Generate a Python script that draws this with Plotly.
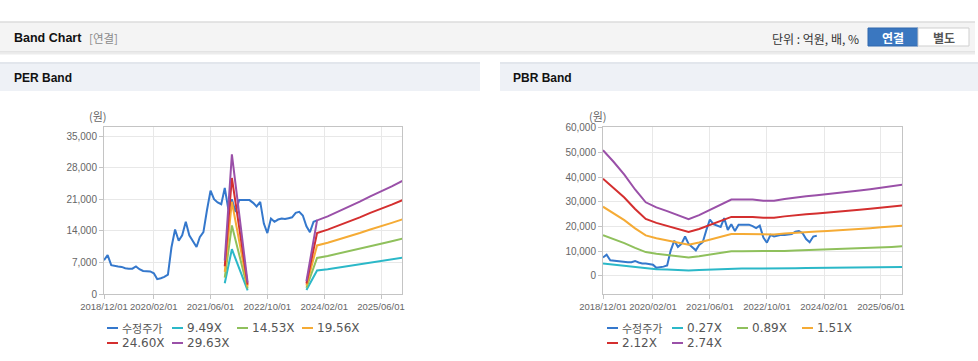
import pandas as pd
import plotly.graph_objects as go

W, H = 978, 361

# ---------------- data ----------------
price_dates = pd.date_range("2018-12-01", periods=61, freq="MS")
price = [7500, 8600, 6400, 6200, 6100, 6000, 5700, 5600, 5600, 6100,
         5500, 5100, 5100, 5000, 4600, 3300, 3500, 3800, 4300, 10300,
         14300, 11800, 13000, 16000, 13000, 11600, 10400, 12600, 13700, 18500,
         22900, 21000, 20300, 19900, 23500, 18700, 21000, 18200, 20800, 20800,
         20800, 20800, 20200, 19400, 20400, 15600, 13500, 16700, 16000, 16500,
         16700, 16600, 16800, 17000, 18000, 18200, 17400, 15000, 13700, 16000,
         16300]

per_band_dates = ["2021-10-01", "2021-12-01", "2022-04-15", "2023-01-01", "2023-09-01",
                  "2023-12-01", "2024-03-01", "2024-06-01", "2024-09-01", "2024-12-01",
                  "2025-03-01", "2025-06-01", "2025-09-01", "2025-12-01"]
per_949 = [2370, 9920, 810, None, 900, 5220, 5500, 5840, 6170, 6550, 6930, 7260, 7640, 8020]
per_1453 = [3630, 15180, 1240, None, 1380, 7990, 8430, 8940, 9450, 10030, 10610, 11120, 11700, 12280]
per_1956 = [4890, 20440, 1660, None, 1860, 10760, 11350, 12030, 12710, 13500, 14280, 14960, 15750, 16530]
per_2460 = [6150, 25710, 2090, None, 2340, 13530, 14270, 15130, 15990, 16970, 17960, 18820, 19800, 20790]
per_2963 = [7410, 30960, 2520, None, 2820, 16300, 17190, 18220, 19260, 20450, 21630, 22670, 23850, 25040]

pbr_band_dates = pd.date_range("2018-12-01", "2025-12-01", freq="3MS")
pbr_027 = [5020, 4560, 4050, 3460, 2940, 2740, 2590, 2420, 2270, 2430, 2650, 2860, 3050, 3050, 3050,
           3010, 3010, 3080, 3150, 3190, 3230, 3270, 3310, 3360, 3420, 3470, 3520, 3580, 3650]
pbr_089 = [16550, 15040, 13350, 11390, 9700, 9030, 8540, 7970, 7480, 8010, 8720, 9430, 10060, 10060, 10060,
           9920, 9920, 10150, 10370, 10500, 10640, 10770, 10900, 11080, 11260, 11440, 11620, 11790, 12020]
pbr_151 = [28090, 25520, 22650, 19330, 16460, 15330, 14500, 13520, 12680, 13590, 14800, 16010, 17060, 17060, 17060,
           16840, 16840, 17210, 17590, 17820, 18050, 18270, 18500, 18800, 19100, 19400, 19710, 20010, 20390]
pbr_212 = [39430, 35830, 31800, 27140, 23110, 21520, 20350, 18970, 17810, 19080, 20780, 22470, 23960, 23960, 23960,
           23640, 23640, 24170, 24700, 25020, 25330, 25650, 25970, 26390, 26820, 27240, 27670, 28090, 28620]
pbr_274 = [50960, 46310, 41100, 35070, 29870, 27810, 26300, 24520, 23020, 24660, 26850, 29040, 30960, 30960, 30960,
           30550, 30550, 31240, 31920, 32330, 32740, 33150, 33570, 34110, 34660, 35210, 35760, 36310, 36990]

per_names = ["수정주가", "9.49X", "14.53X", "19.56X", "24.60X", "29.63X"]
pbr_names = ["수정주가", "0.27X", "0.89X", "1.51X", "2.12X", "2.74X"]
colors = ["#3578cc", "#2bb8c8", "#8fc05c", "#f5ab35", "#d42f2f", "#9a50a8"]

x_tickvals = ["2018-12-01", "2020-02-01", "2021-06-01", "2022-10-01", "2024-02-01", "2025-06-01"]
per_yticks = [0, 7000, 14000, 21000, 28000, 35000]
pbr_yticks = [0, 10000, 20000, 30000, 40000, 50000, 60000]


def px(x):
    return x / W


def py(y):
    return 1 - y / H


fig = go.Figure()

per_series = [price, per_949, per_1453, per_1956, per_2460, per_2963]
pbr_series = [price, pbr_027, pbr_089, pbr_151, pbr_212, pbr_274]

for i, (name, vals) in enumerate(zip(per_names, per_series)):
    xs = price_dates if i == 0 else per_band_dates
    fig.add_trace(go.Scatter(x=xs, y=vals, name=name, mode="lines",
                             line=dict(color=colors[i], width=2), xaxis="x", yaxis="y",
                             showlegend=False, connectgaps=False))
for i, (name, vals) in enumerate(zip(pbr_names, pbr_series)):
    xs = price_dates if i == 0 else pbr_band_dates
    fig.add_trace(go.Scatter(x=xs, y=vals, name=name, mode="lines",
                             line=dict(color=colors[i], width=2), xaxis="x2", yaxis="y2",
                             showlegend=False))

tickfont = dict(family="Liberation Sans, Arial, sans-serif", size=9.5, color="#666666")
ytickfont = dict(family="Liberation Sans, Arial, sans-serif", size=10, color="#666666")
common_x = dict(type="date", range=["2018-12-01", "2025-11-28"], tickvals=x_tickvals,
                tickformat="%Y/%m/%d", tickangle=0, tickfont=tickfont, showgrid=True, gridcolor="#e8e8e8",
                showline=True, mirror=True, linecolor="#c4c4c4", linewidth=1, automargin=False,
                ticks="outside", ticklen=4, tickcolor="#c4c4c4", zeroline=False, fixedrange=True)
common_y = dict(tickformat=",d", tickfont=ytickfont, showgrid=True, gridcolor="#e8e8e8",
                showline=True, mirror=True, linecolor="#c4c4c4", linewidth=1, automargin=False,
                ticks="outside", ticklen=4, tickcolor="#c4c4c4", zeroline=False, fixedrange=True)

shapes = []
annotations = []

# top header bar
shapes.append(dict(type="rect", xref="paper", yref="paper", x0=px(0), x1=px(975), y0=py(52), y1=py(22),
                   fillcolor="#f4f4f4", line=dict(width=0), layer="below"))
shapes.append(dict(type="line", xref="paper", yref="paper", x0=px(0), x1=px(975), y0=py(22), y1=py(22),
                   line=dict(color="#dcdcdc", width=1.5)))
shapes.append(dict(type="line", xref="paper", yref="paper", x0=px(0), x1=px(975), y0=py(52), y1=py(52),
                   line=dict(color="#d2d2d2", width=1)))
shapes.append(dict(type="line", xref="paper", yref="paper", x0=px(0), x1=px(975), y0=py(53.5), y1=py(53.5),
                   line=dict(color="#ececec", width=2)))

# section headers
for x0, x1 in [(0, 480), (500, 978)]:
    shapes.append(dict(type="rect", xref="paper", yref="paper", x0=px(x0), x1=px(x1), y0=py(91), y1=py(62),
                       fillcolor="#eef1f6", line=dict(width=0), layer="below"))
    shapes.append(dict(type="line", xref="paper", yref="paper", x0=px(x0), x1=px(x1), y0=py(63), y1=py(63),
                       line=dict(color="#e2e6ec", width=2)))

# buttons
shapes.append(dict(type="rect", xref="paper", yref="paper", x0=px(868), x1=px(918), y0=py(46), y1=py(28),
                   fillcolor="#3a77c0", line=dict(color="#3169ad", width=1)))
shapes.append(dict(type="rect", xref="paper", yref="paper", x0=px(918), x1=px(969), y0=py(46), y1=py(28),
                   fillcolor="#ffffff", line=dict(color="#cfcfcf", width=1)))

hfont = "Liberation Sans, Arial, Noto Sans CJK KR, sans-serif"
kfont = "Noto Sans CJK KR, sans-serif"
annotations += [
    dict(text="<b>Band Chart</b>", x=px(12), y=py(38), xref="paper", yref="paper", xanchor="left",
         yanchor="middle", showarrow=False, font=dict(family=hfont, size=12.5, color="#111111")),
    dict(text="[연결]", x=px(87), y=py(38), xref="paper", yref="paper", xanchor="left",
         yanchor="middle", showarrow=False, font=dict(family=kfont, size=11.5, color="#8a8a8a")),
    dict(text="단위 : 억원, 배, %", x=px(861), y=py(38), xref="paper", yref="paper", xanchor="right",
         yanchor="middle", showarrow=False, font=dict(family=kfont, size=12, color="#333333")),
    dict(text="<b>연결</b>", x=px(893), y=py(37), xref="paper", yref="paper", xanchor="center",
         yanchor="middle", showarrow=False, font=dict(family=kfont, size=12, color="#ffffff")),
    dict(text="<b>별도</b>", x=px(943.5), y=py(37), xref="paper", yref="paper", xanchor="center",
         yanchor="middle", showarrow=False, font=dict(family=kfont, size=12, color="#555555")),
    dict(text="<b>PER Band</b>", x=px(12), y=py(78), xref="paper", yref="paper", xanchor="left",
         yanchor="middle", showarrow=False, font=dict(family=hfont, size=12, color="#111111")),
    dict(text="<b>PBR Band</b>", x=px(511), y=py(78), xref="paper", yref="paper", xanchor="left",
         yanchor="middle", showarrow=False, font=dict(family=hfont, size=12, color="#111111")),
    dict(text="(원)", x=px(98), y=py(116), xref="paper", yref="paper", xanchor="center",
         yanchor="middle", showarrow=False, font=dict(family=kfont, size=11, color="#666666")),
    dict(text="(원)", x=px(598), y=py(116), xref="paper", yref="paper", xanchor="center",
         yanchor="middle", showarrow=False, font=dict(family=kfont, size=11, color="#666666")),
]

# manual legends
lfont = "DejaVu Sans, Noto Sans CJK KR, sans-serif"
for base, names in [(107, per_names), (607, pbr_names)]:
    for i, name in enumerate(names):
        col, row = i % 4, i // 4
        x0 = base + col * 65
        yy = 328 + row * 15
        is_kr = i == 0
        shapes.append(dict(type="line", xref="paper", yref="paper", x0=px(x0), x1=px(x0 + 11),
                           y0=py(yy), y1=py(yy), line=dict(color=colors[i], width=2)))
        annotations.append(dict(text=name, x=px(x0 + 13), y=py(yy), xref="paper", yref="paper",
                                xanchor="left", yanchor="middle", showarrow=False,
                                font=dict(family=kfont if is_kr else lfont, size=11 if is_kr else 12,
                                          color="#555555")))

fig.update_layout(
    template="none",
    width=W, height=H, autosize=False,
    margin=dict(l=0, r=0, t=0, b=0, pad=0, autoexpand=False),
    paper_bgcolor="#ffffff", plot_bgcolor="#ffffff",
    showlegend=False,
    xaxis=dict(domain=[px(104), px(402)], anchor="y", **common_x),
    yaxis=dict(domain=[py(294), py(127)], anchor="x", range=[0, 37000], tickvals=per_yticks, **common_y),
    xaxis2=dict(domain=[px(603), px(902)], anchor="y2", **common_x),
    yaxis2=dict(domain=[py(294), py(127)], anchor="x2", range=[-7300, 60400], tickvals=pbr_yticks, **common_y),
    shapes=shapes,
    annotations=annotations,
    hovermode=False,
)

fig.write_html(
    "out.html",
    config={"responsive": False, "displayModeBar": False},
    default_width="978px",
    default_height="361px",
    post_script="document.body.style.margin='0';document.body.style.padding='0';document.body.style.overflow='hidden';",
)
